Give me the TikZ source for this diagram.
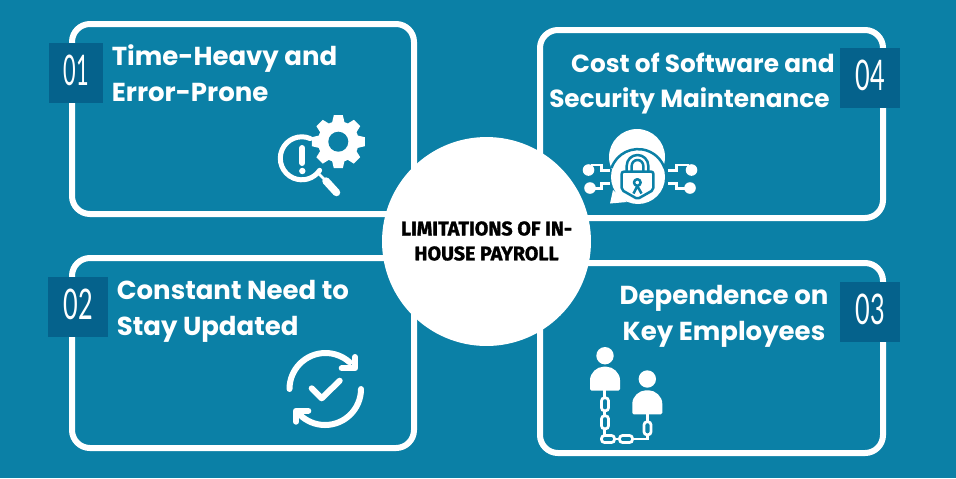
\documentclass[tikz,border=0pt]{standalone}
\usepackage{fontspec}
\newfontfamily\headfont{Poppins Bold}
\newfontfamily\numfont{Lato}
\newfontfamily\hubfont[FakeBold=1.5]{Fira Sans Bold}
\definecolor{tealbg}{HTML}{0B80A6}
\definecolor{tealsq}{HTML}{05628C}
\tikzset{
  panel/.style={draw=white, line width=0.12cm, rounded corners=0.36cm, inner sep=0pt},
  numbox/.style={fill=tealsq, inner sep=0pt, minimum height=1.2cm, text=white, font=\numfont\fontsize{20}{20}\selectfont},
  numtext/.style={text=white, inner sep=0pt, font=\numfont\fontsize{20}{20}\selectfont},
  heading/.style={text=white, inner sep=0pt, font=\headfont\fontsize{14.8}{20.6}\selectfont},
  hub/.style={circle, fill=white, inner sep=0pt, minimum size=4.18cm},
  wire/.style={draw=white, line width=0.055cm},
  thick line/.style={draw=white, line width=0.12cm, line cap=round, line join=round},
  lockline/.style={draw=tealbg, line width=0.05cm, line join=round}
}
\begin{document}
\begin{tikzpicture}[x=0.02cm, y=-0.02cm]
  \useasboundingbox[fill=tealbg] (0,0) rectangle (956,478);

  % panels
  \foreach \t/\x/\y/\w/\h in {A/243/119/342/190, D/711.5/124/343/188, B/243/353/342/190, C/711.5/358/343/190}
    \node [panel, minimum width=\w*0.02cm, minimum height=\h*0.02cm] (panel\t) at (\x,\y) {};

  % number squares
  \foreach \t/\x/\y/\w/\s/\n in {A/76/73/54/0.62/01, B/78/306.5/60/0.72/02, C/870/312/60/0.72/03, D/870/78/60/0.72/04}{
    \node [numbox, minimum width=\w*0.02cm] (num\t) at (\x,\y) {};
    \node [numtext] (numtext\t) at (\x,\y-2.5) {\scalebox{\s}[1.2]{\n}};
  }

  % centre
  \node [hub] (hub) at (486.5,241.5) {};
  \node [align=center, inner sep=0pt, font=\hubfont\fontsize{11.2}{14.2}\selectfont] (hubtext) at (486.5,241)
    {LIMITATIONS OF IN-\\HOUSE PAYROLL};

  % headings
  \node [heading, align=left, anchor=west] (headA) at (111.5,73.5) {Time-Heavy and\\Error-Prone};
  \node [heading, align=left, anchor=west] (headB) at (116.5,311) {Constant Need to\\Stay Updated};
  \node [heading, align=center] (headC) at (724,316) {Dependence on\\Key Employees};
  \node [heading, align=right, anchor=east, font=\headfont\fontsize{14.1}{19.6}\selectfont] (headD) at (835,83.5) {Cost of Software and\\Security Maintenance\hspace*{0.1cm}};

  % gear and magnifier
  \draw [thick line, line width=0.1cm] (310.2,138.5) arc (-67:-326:21.5);
  \fill [white] (338.3,141.7) circle [radius=20.5];
  \foreach \a in {0,45,...,315}
    \fill [white, shift={(338.3,141.7)}, rotate=\a] (18,-6.5) -- (26.5,-4.5) -- (26.5,4.5) -- (18,6.5) -- cycle;
  \fill [tealbg] (338.3,141.7) circle [radius=10];
  \draw [thick line] (302.3,148) -- (302.3,163);
  \fill [white] (302.3,171) circle [radius=3.2];
  \draw [wire] (318,173) -- (326,181);
  \draw [thick line, line width=0.15cm] (326,181) -- (336.5,192.5);

  % lock in speech bubble
  \fill [white] (637,157) circle [radius=28];
  \fill [white] (638,177) circle [radius=27];
  \fill [white] (613,190) -- (610,203.5) -- (627,202) -- cycle;
  \draw [lockline] (611.5,168) arc (-161:-19:28);
  \draw [lockline, fill=white] (626.7,172) -- (626.7,165.8) arc (180:360:10.8) -- (648.3,172);
  \draw [lockline] (631.7,172) -- (631.7,165.8) arc (180:360:5.8) -- (643.3,172);
  \draw [lockline, fill=white, rounded corners=0.04cm] (621.7,171.7) -- (653.3,171.7) -- (653.3,190) -- (637.5,199) -- (621.7,190) -- cycle;
  \draw [lockline] (637.3,182.5) circle [radius=3.3];
  \draw [lockline] (637.3,186) -- (633.5,193.5) (637.3,186) -- (641.5,193.5);
  \foreach \x/\y in {588.5/170, 590/188, 691.5/170, 690/188}
    \fill [white] (\x,\y) circle [radius=5.8];
  \draw [wire] (591,165) -- (601.7,165) -- (601.7,170.7) -- (610,170.7);
  \draw [wire] (590,188.3) -- (601.7,188.3) -- (601.7,183.3) -- (610,183.3);
  \draw [wire] (689,165) -- (676.7,165) -- (676.7,170.7) -- (668.3,170.7);
  \draw [wire] (690,188.3) -- (676.7,188.3) -- (676.7,183.3) -- (668.3,183.3);

  % refresh with tick
  \draw [thick line] (289.5,389) arc (180:312:36);
  \draw [thick line] (355,357) -- (355,368.3) -- (341.7,368.3);
  \draw [thick line] (361,389) arc (0:135:36);
  \draw [thick line] (308.3,410.7) -- (296,410.7) -- (296,421.7);
  \draw [thick line] (311.7,388.3) -- (321.7,398.3) -- (339.7,380.7);

  % two people on a chain
  \foreach \x/\y in {605/355.7, 647.3/379}
    \fill [white] (\x,\y) circle [radius=8.7];
  \foreach \x/\y in {605/390.7, 647.3/414.3}
    \fill [white, rounded corners=0.03cm] (\x-15,\y) -- (\x-15,\y-9) .. controls (\x-15,\y-18) and (\x-8,\y-24) .. (\x,\y-24) .. controls (\x+8,\y-24) and (\x+15,\y-18) .. (\x+15,\y-9) -- (\x+15,\y) -- cycle;
  \draw [wire] (604.5,390) -- (604.5,439) -- (647.5,439) -- (647.5,414);
  \foreach \x/\y in {605/404.3, 605/422.3, 647.5/428.3}
    \draw [wire, fill=tealbg, rounded corners=0.06cm] (\x-3.5,\y-6.5) rectangle (\x+3.5,\y+6.5);
  \foreach \x/\y in {608/439, 626/439}
    \draw [wire, fill=tealbg, rounded corners=0.06cm] (\x-6.5,\y-3.5) rectangle (\x+6.5,\y+3.5);
\end{tikzpicture}
\end{document}
